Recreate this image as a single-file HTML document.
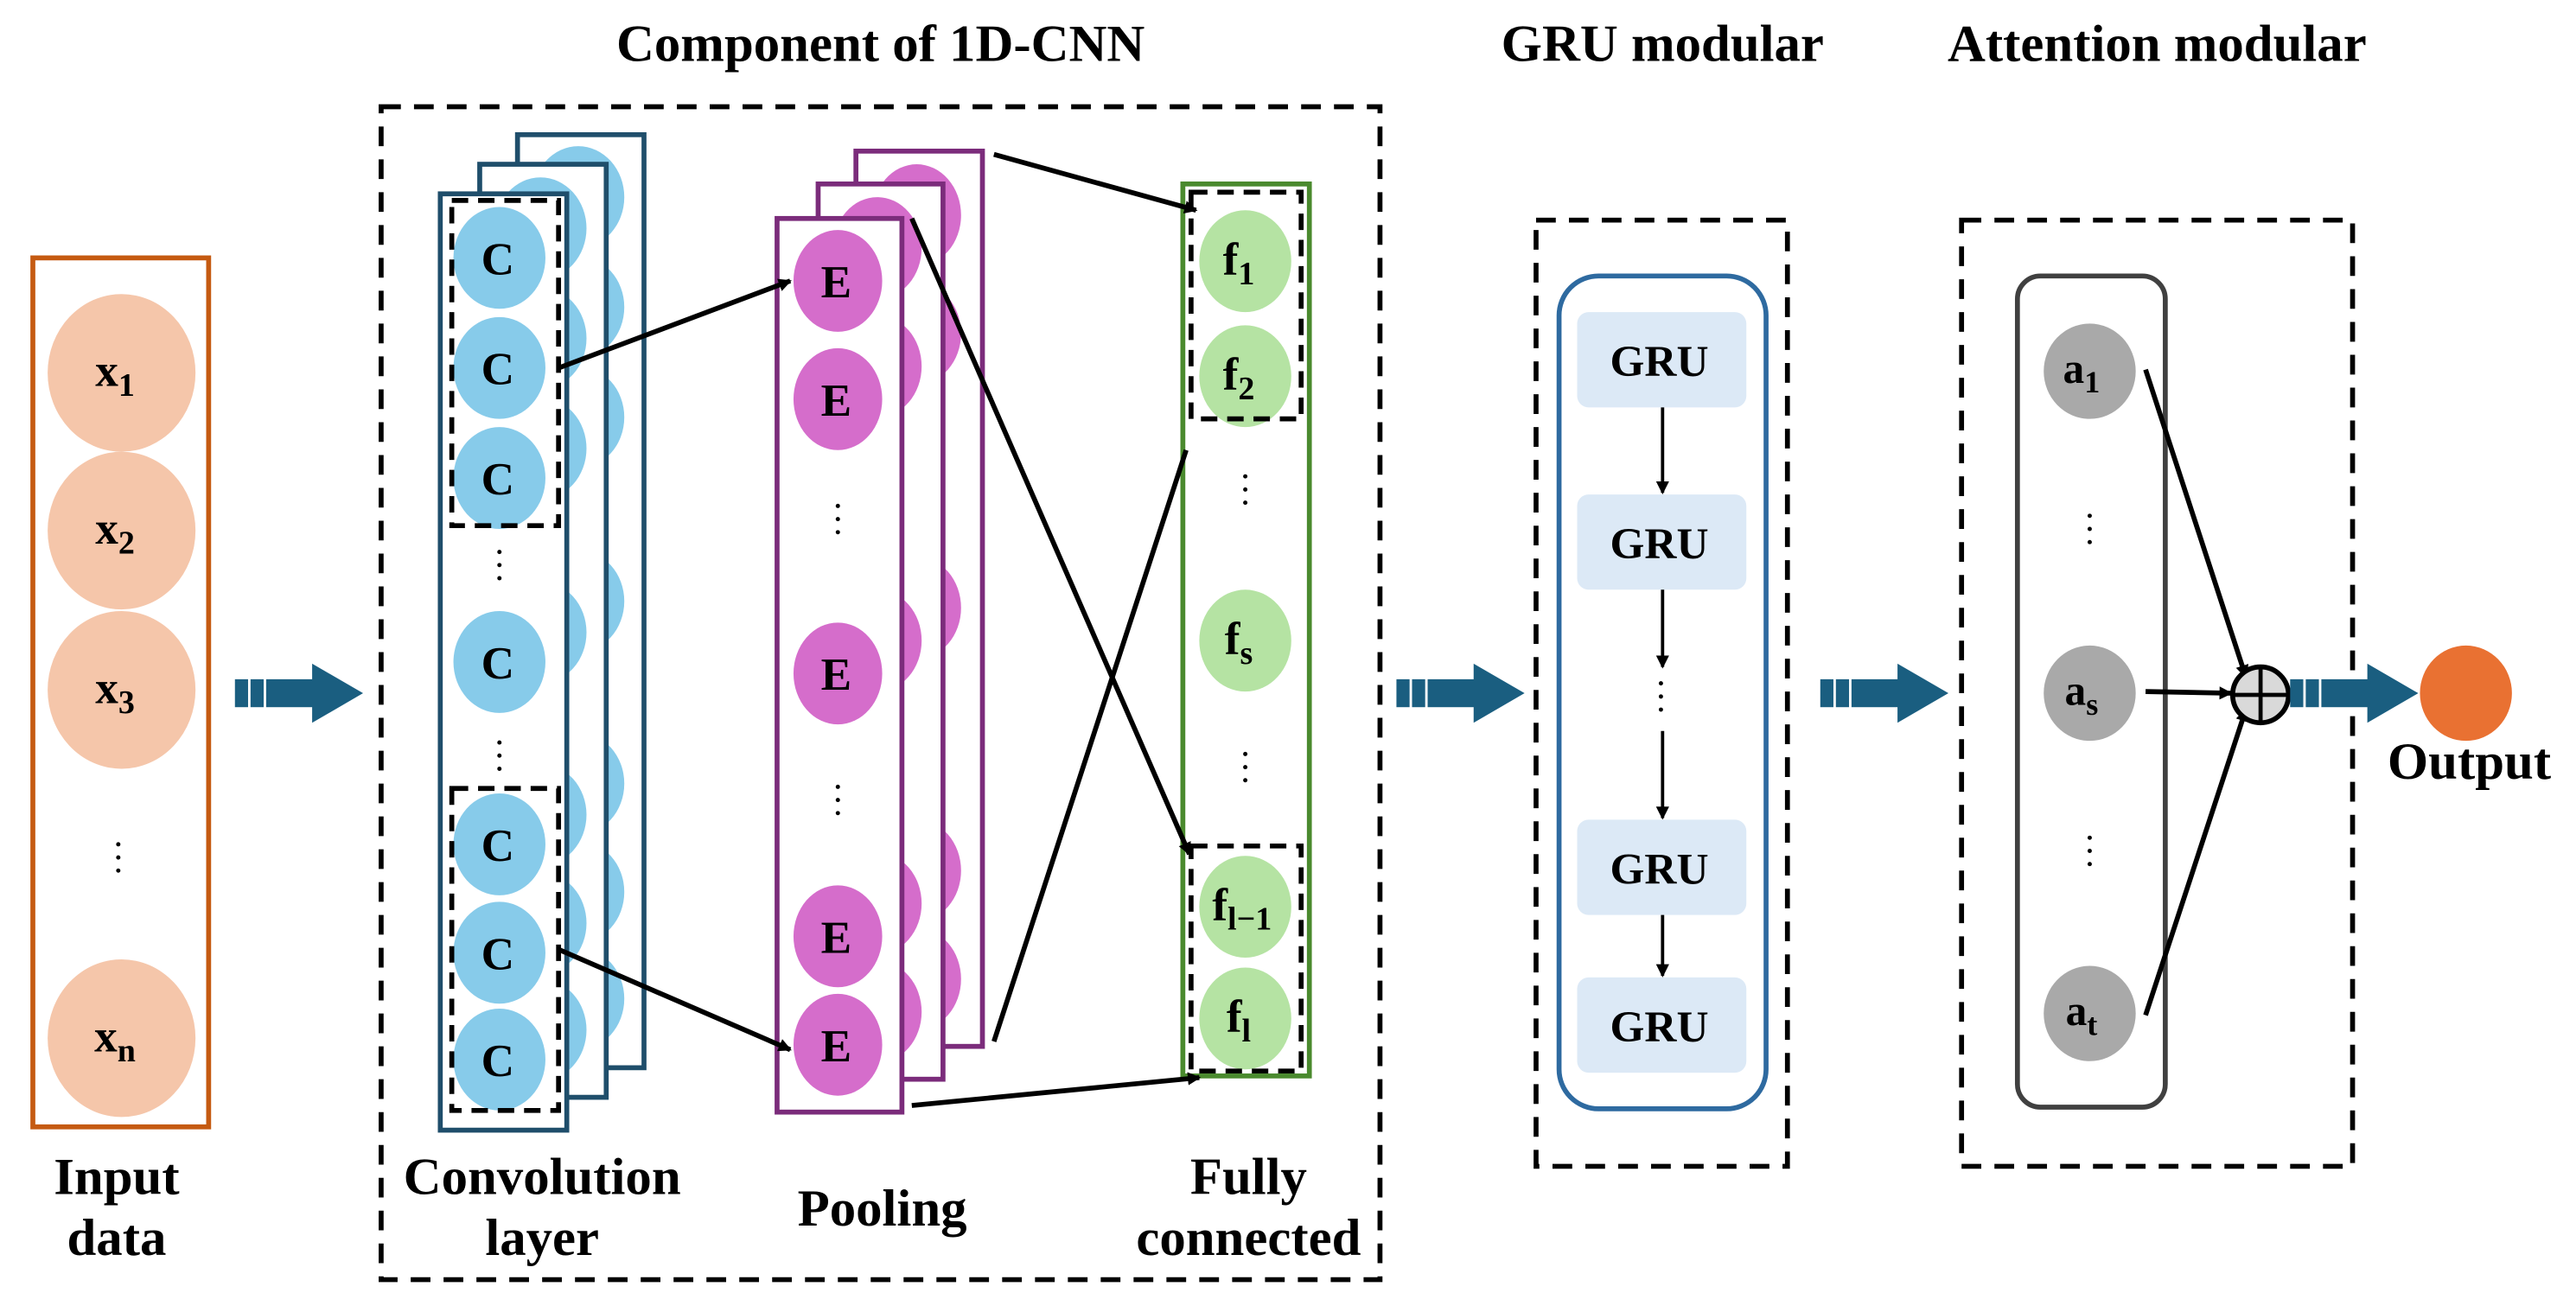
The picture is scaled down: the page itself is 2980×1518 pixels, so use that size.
<!DOCTYPE html>
<html><head><meta charset="utf-8"><style>
html,body{margin:0;padding:0;background:#fff;}
svg{display:block;}
text{font-family:"Liberation Serif",serif;font-weight:bold;fill:#000;}
</style></head><body>
<svg width="2980" height="1518" viewBox="0 0 1568 798.7" preserveAspectRatio="none" xmlns="http://www.w3.org/2000/svg">
<defs>
<marker id="ah" markerWidth="8" markerHeight="8" refX="7" refY="4" orient="auto" markerUnits="userSpaceOnUse"><path d="M0,0 L8,4 L0,8 Z" fill="#000"/></marker>
<g id="barr">
<rect x="0" y="-8.5" width="8" height="17" fill="#1A5E80"/>
<rect x="9.5" y="-8.5" width="8" height="17" fill="#1A5E80"/>
<rect x="19" y="-8.5" width="29" height="17" fill="#1A5E80"/>
<path d="M47,-18 L78,0 L47,18 Z" fill="#1A5E80"/>
</g>
</defs>

<!-- Titles -->
<text x="536" y="37" font-size="32" text-anchor="middle">Component of 1D-CNN</text>
<text x="1012" y="37" font-size="32" text-anchor="middle">GRU modular</text>
<text x="1313" y="37" font-size="32" text-anchor="middle">Attention modular</text>

<!-- Input -->
<rect x="20" y="157" width="107" height="529" fill="none" stroke="#C55A11" stroke-width="3"/>
<g fill="#F5C6AA">
<ellipse cx="74" cy="227" rx="45" ry="48"/>
<ellipse cx="74" cy="323" rx="45" ry="48"/>
<ellipse cx="74" cy="420" rx="45" ry="48"/>
<ellipse cx="74" cy="632" rx="45" ry="48"/>
</g>
<g font-size="28" text-anchor="middle">
<text x="70" y="235">x<tspan font-size="20" dy="6">1</tspan></text>
<text x="70" y="331">x<tspan font-size="20" dy="6">2</tspan></text>
<text x="70" y="428">x<tspan font-size="20" dy="6">3</tspan></text>
<text x="70" y="640">x<tspan font-size="20" dy="6">n</tspan></text>
</g>
<g fill="#000"><circle cx="72" cy="514" r="1.3"/><circle cx="72" cy="522" r="1.3"/><circle cx="72" cy="530" r="1.3"/></g>
<text x="71" y="727" font-size="32" text-anchor="middle">Input</text>
<text x="71" y="764" font-size="32" text-anchor="middle">data</text>

<use href="#barr" x="143" y="422"/>

<!-- CNN box -->
<rect x="232" y="65" width="608" height="714" fill="none" stroke="#000" stroke-width="3" stroke-dasharray="12,8"/>

<!-- conv back layers -->
<g stroke="#1F4E6B" stroke-width="3">
<rect x="315" y="82" width="77" height="568" fill="#fff"/>
<g fill="#87CBEA" stroke="none">
<ellipse cx="352" cy="120" rx="28" ry="31"/><ellipse cx="352" cy="187" rx="28" ry="31"/><ellipse cx="352" cy="254" rx="28" ry="31"/>
<ellipse cx="352" cy="366" rx="28" ry="31"/><ellipse cx="352" cy="477" rx="28" ry="31"/><ellipse cx="352" cy="543" rx="28" ry="31"/><ellipse cx="352" cy="608" rx="28" ry="31"/>
</g>
<rect x="292" y="100" width="77" height="568" fill="#fff"/>
<g fill="#87CBEA" stroke="none">
<ellipse cx="329" cy="139" rx="28" ry="31"/><ellipse cx="329" cy="206" rx="28" ry="31"/><ellipse cx="329" cy="273" rx="28" ry="31"/>
<ellipse cx="329" cy="385" rx="28" ry="31"/><ellipse cx="329" cy="496" rx="28" ry="31"/><ellipse cx="329" cy="562" rx="28" ry="31"/><ellipse cx="329" cy="627" rx="28" ry="31"/>
</g>
<rect x="268" y="118" width="77" height="570" fill="#fff"/>
</g>
<g fill="#87CBEA">
<ellipse cx="304" cy="157" rx="28" ry="31"/><ellipse cx="304" cy="224" rx="28" ry="31"/><ellipse cx="304" cy="291" rx="28" ry="31"/>
<ellipse cx="304" cy="403" rx="28" ry="31"/><ellipse cx="304" cy="514" rx="28" ry="31"/><ellipse cx="304" cy="580" rx="28" ry="31"/><ellipse cx="304" cy="645" rx="28" ry="31"/>
</g>
<g font-size="28" text-anchor="middle">
<text x="303" y="167">C</text><text x="303" y="234">C</text><text x="303" y="301">C</text>
<text x="303" y="413">C</text><text x="303" y="524">C</text><text x="303" y="590">C</text><text x="303" y="655">C</text>
</g>
<rect x="275" y="122" width="65" height="198" fill="none" stroke="#000" stroke-width="3" stroke-dasharray="10,6"/>
<rect x="275" y="480" width="65" height="196" fill="none" stroke="#000" stroke-width="3" stroke-dasharray="10,6"/>
<g fill="#000"><circle cx="304" cy="336" r="1.3"/><circle cx="304" cy="344" r="1.3"/><circle cx="304" cy="352" r="1.3"/>
<circle cx="304" cy="452" r="1.3"/><circle cx="304" cy="460" r="1.3"/><circle cx="304" cy="468" r="1.3"/></g>

<!-- pooling -->
<g stroke="#7B2C7B" stroke-width="3">
<rect x="521" y="92" width="77" height="545" fill="#fff"/>
<g fill="#D56DCB" stroke="none">
<ellipse cx="558" cy="131" rx="27" ry="31"/><ellipse cx="558" cy="203" rx="27" ry="31"/><ellipse cx="558" cy="370" rx="27" ry="31"/><ellipse cx="558" cy="530" rx="27" ry="31"/><ellipse cx="558" cy="596" rx="27" ry="31"/>
</g>
<rect x="498" y="112" width="76" height="545" fill="#fff"/>
<g fill="#D56DCB" stroke="none">
<ellipse cx="534" cy="151" rx="27" ry="31"/><ellipse cx="534" cy="223" rx="27" ry="31"/><ellipse cx="534" cy="390" rx="27" ry="31"/><ellipse cx="534" cy="550" rx="27" ry="31"/><ellipse cx="534" cy="616" rx="27" ry="31"/>
</g>
<rect x="473" y="133" width="76" height="544" fill="#fff"/>
</g>
<g fill="#D56DCB">
<ellipse cx="510" cy="171" rx="27" ry="31"/><ellipse cx="510" cy="243" rx="27" ry="31"/><ellipse cx="510" cy="410" rx="27" ry="31"/><ellipse cx="510" cy="570" rx="27" ry="31"/><ellipse cx="510" cy="636" rx="27" ry="31"/>
</g>
<g font-size="28" text-anchor="middle">
<text x="509" y="181">E</text><text x="509" y="253">E</text><text x="509" y="420">E</text><text x="509" y="580">E</text><text x="509" y="646">E</text>
</g>
<g fill="#000"><circle cx="510" cy="308" r="1.3"/><circle cx="510" cy="316" r="1.3"/><circle cx="510" cy="324" r="1.3"/>
<circle cx="510" cy="479" r="1.3"/><circle cx="510" cy="487" r="1.3"/><circle cx="510" cy="495" r="1.3"/></g>

<!-- FC -->
<rect x="720" y="112" width="77" height="543" fill="#fff" stroke="#4A8A2E" stroke-width="3"/>
<g fill="#B5E3A3">
<ellipse cx="758" cy="159" rx="28" ry="31"/><ellipse cx="758" cy="229" rx="28" ry="31"/><ellipse cx="758" cy="390" rx="28" ry="31"/><ellipse cx="758" cy="552" rx="28" ry="31"/><ellipse cx="758" cy="620" rx="28" ry="31"/>
</g>
<g font-size="28" text-anchor="middle">
<text x="754" y="167">f<tspan font-size="20" dy="6">1</tspan></text>
<text x="754" y="237">f<tspan font-size="20" dy="6">2</tspan></text>
<text x="754" y="398">f<tspan font-size="20" dy="6">s</tspan></text>
<text x="756" y="560">f<tspan font-size="20" dy="6">l−1</tspan></text>
<text x="754" y="628">f<tspan font-size="20" dy="6">l</tspan></text>
</g>
<rect x="725" y="117" width="67" height="138" fill="none" stroke="#000" stroke-width="3" stroke-dasharray="10,6"/>
<rect x="725" y="515" width="67" height="137" fill="none" stroke="#000" stroke-width="3" stroke-dasharray="10,6"/>
<g fill="#000"><circle cx="758" cy="290" r="1.3"/><circle cx="758" cy="298" r="1.3"/><circle cx="758" cy="306" r="1.3"/>
<circle cx="758" cy="459" r="1.3"/><circle cx="758" cy="467" r="1.3"/><circle cx="758" cy="475" r="1.3"/></g>

<!-- CNN connectors -->
<g stroke="#000" stroke-width="3" fill="none">
<line x1="340" y1="224" x2="481" y2="171" marker-end="url(#ah)"/>
<line x1="340" y1="578" x2="481" y2="639" marker-end="url(#ah)"/>
<line x1="605" y1="94" x2="728" y2="128" marker-end="url(#ah)"/>
<line x1="555" y1="133" x2="724" y2="520" marker-end="url(#ah)"/>
<line x1="605" y1="634" x2="722" y2="274"/>
<line x1="555" y1="673" x2="730" y2="656" marker-end="url(#ah)"/>
</g>

<text x="330" y="727" font-size="32" text-anchor="middle">Convolution</text>
<text x="330" y="764" font-size="32" text-anchor="middle">layer</text>
<text x="537" y="746" font-size="32" text-anchor="middle">Pooling</text>
<text x="760" y="727" font-size="32" text-anchor="middle">Fully</text>
<text x="760" y="764" font-size="32" text-anchor="middle">connected</text>

<use href="#barr" x="850" y="422"/>

<!-- GRU -->
<rect x="935" y="134" width="153" height="576" fill="none" stroke="#000" stroke-width="3" stroke-dasharray="12,8"/>
<rect x="949" y="168" width="126" height="507" rx="24" fill="none" stroke="#2E6AA0" stroke-width="3"/>
<g fill="#DCE9F6">
<rect x="960" y="190" width="103" height="58" rx="7"/>
<rect x="960" y="301" width="103" height="58" rx="7"/>
<rect x="960" y="499" width="103" height="58" rx="7"/>
<rect x="960" y="595" width="103" height="58" rx="7"/>
</g>
<g font-size="27" text-anchor="middle">
<text x="1010" y="229">GRU</text><text x="1010" y="340">GRU</text><text x="1010" y="538">GRU</text><text x="1010" y="634">GRU</text>
</g>
<g stroke="#000" stroke-width="2" fill="none">
<line x1="1012" y1="248" x2="1012" y2="300" marker-end="url(#ah)"/>
<line x1="1012" y1="359" x2="1012" y2="406" marker-end="url(#ah)"/>
<line x1="1012" y1="445" x2="1012" y2="498" marker-end="url(#ah)"/>
<line x1="1012" y1="557" x2="1012" y2="594" marker-end="url(#ah)"/>
</g>
<g fill="#000"><circle cx="1011" cy="416" r="1.3"/><circle cx="1011" cy="424" r="1.3"/><circle cx="1011" cy="432" r="1.3"/></g>

<use href="#barr" x="1108" y="422"/>

<!-- Attention -->
<rect x="1194" y="134" width="238" height="576" fill="none" stroke="#000" stroke-width="3" stroke-dasharray="12,8"/>
<rect x="1228" y="168" width="90" height="506" rx="14" fill="none" stroke="#404040" stroke-width="3"/>
<g fill="#A9A9A9">
<ellipse cx="1272" cy="226" rx="28" ry="29"/><ellipse cx="1272" cy="422" rx="28" ry="29"/><ellipse cx="1272" cy="617" rx="28" ry="29"/>
</g>
<g font-size="26" text-anchor="middle">
<text x="1267" y="233">a<tspan font-size="19" dy="6">1</tspan></text>
<text x="1267" y="429">a<tspan font-size="19" dy="6">s</tspan></text>
<text x="1267" y="624">a<tspan font-size="19" dy="6">t</tspan></text>
</g>
<g fill="#000"><circle cx="1272" cy="314" r="1.3"/><circle cx="1272" cy="322" r="1.3"/><circle cx="1272" cy="330" r="1.3"/>
<circle cx="1272" cy="510" r="1.3"/><circle cx="1272" cy="518" r="1.3"/><circle cx="1272" cy="526" r="1.3"/></g>
<g stroke="#000" stroke-width="3" fill="none">
<line x1="1306" y1="225" x2="1367" y2="412" marker-end="url(#ah)"/>
<line x1="1306" y1="421" x2="1358" y2="422" marker-end="url(#ah)"/>
<line x1="1306" y1="618" x2="1367" y2="432" marker-end="url(#ah)"/>
</g>
<circle cx="1376" cy="423" r="17" fill="#D9D9D9" stroke="#000" stroke-width="3"/>
<line x1="1359" y1="423" x2="1393" y2="423" stroke="#000" stroke-width="2.5"/>
<line x1="1376" y1="406" x2="1376" y2="440" stroke="#000" stroke-width="2.5"/>

<use href="#barr" x="1394" y="422"/>
<ellipse cx="1501" cy="422" rx="28" ry="29" fill="#E97132"/>
<text x="1503" y="474" font-size="32" text-anchor="middle">Output</text>
</svg>
</body></html>
